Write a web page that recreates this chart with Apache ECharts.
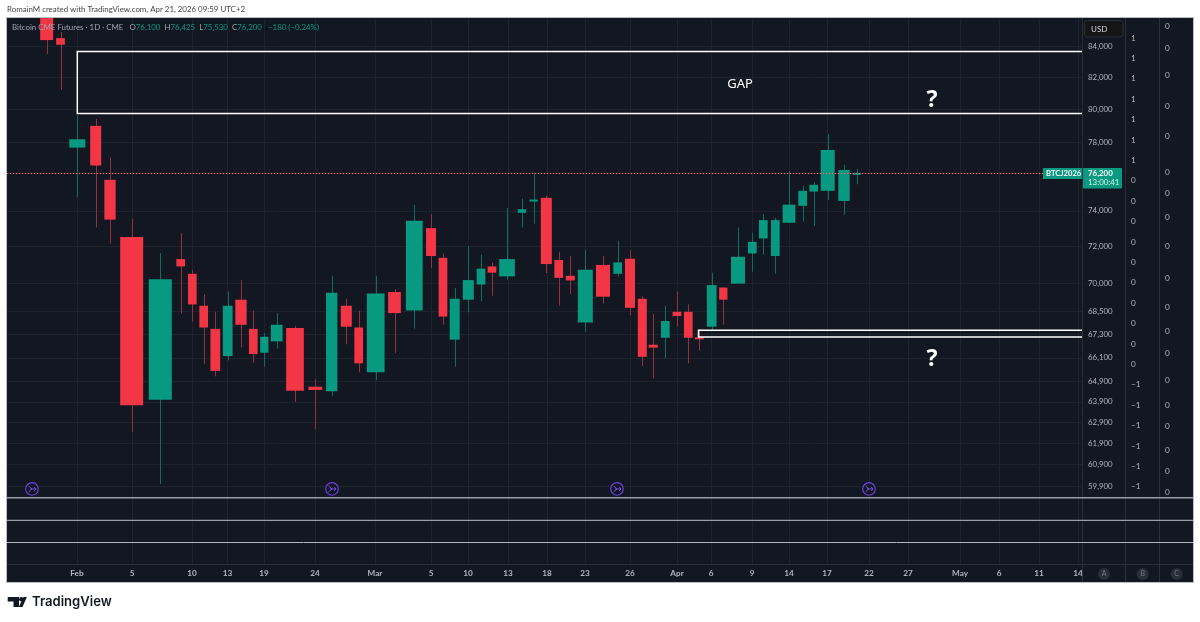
<!DOCTYPE html>
<html>
<head>
<meta charset="utf-8">
<title>Bitcoin CME Futures</title>
<script src="https://cdn.jsdelivr.net/npm/echarts@6/dist/echarts.min.js"></script>
<style>
  html, body { margin: 0; padding: 0; background: #fff; }
  #main { width: 1200px; height: 622px; }
</style>
</head>
<body>
<div id="main"></div>
<script>
    // candles: x is the running volume, width is the session volume (volume candles)
    var sessionPos = [39.7,53.5,70.3,88.7,103,124.7,153.3,173.7,185.3,196.7,208.3,220.7,234,246.3,257.3,269.7,288,308.3,324.7,339.3,351.7,368.7,387.5,407.3,424,436,447.7,461.3,474,485,500,515,526.7,539.3,551.7,563.3,578.3,596,610.7,623,635.3,646.3,658.3,670,681.3,692.3,704.7,716.3,731,745.3,756.3,768.3,782,795.7,806.7,820.7,837,849.7];
    var sessionVol = [13,8.7,16,11,11.3,23,23,8.7,8.7,8.7,9.7,9.7,11.3,8.7,8.3,11.7,17.7,13.7,11.3,11,8.7,17.7,12.7,16.7,10,8.7,10,11,8.7,8.7,15.7,8.3,8.3,11,8.7,9,15,14,8.7,10,9,9,8.7,8.7,8.7,8.7,9.7,8.3,14,8.7,8.7,8.7,12.7,8.7,8.7,14,11.3,8.3];
    var opens = [87000,84510,77690,79000,75790,72530,64000,71310,70510,68800,67590,66190,69120,67590,66360,66940,67630,64650,64420,68800,67660,65370,69530,68550,73030,71380,67030,69120,69930,70910,70370,73890,74600,74750,71260,70400,67920,70990,70510,71330,69170,66770,67130,68480,68480,67150,67700,69770,69980,71620,72450,71480,73330,74290,75110,75150,74570,76100];
    var highs = [88000,84900,79610,79420,77100,73550,71640,72750,70730,69390,68480,69560,70170,68550,67370,68410,67750,65040,70400,69170,68530,70400,69690,74350,73820,71620,69740,72020,71550,71110,74170,74690,76180,74860,71710,71480,71840,71480,72320,71800,69300,68370,68800,69560,68870,67590,70570,69770,73060,72770,73820,73610,76310,75440,75650,78500,76670,76425];
    var lows = [83490,81220,74790,73060,72170,62450,59990,68390,67970,65800,65170,65970,66630,65850,65650,66570,63900,62570,64200,66790,65370,64970,66350,67590,70820,67810,65650,68450,69030,69330,70190,73060,73290,70550,68800,69420,67440,68910,70350,68300,65690,65050,66070,67710,65820,66460,67540,67800,69980,70620,71550,70510,73330,73400,73140,74630,73780,75530];
    var closes = [84380,84080,78190,76630,73510,63740,70220,70910,68870,67660,65440,68800,67800,66290,67180,67800,64450,64490,69490,67700,65820,69450,68410,73440,71480,68230,69170,70170,70790,70570,71310,74100,74650,71040,70290,70150,70730,69280,71130,68690,66150,66620,68000,68260,67130,67100,69900,69120,71440,72260,73480,73480,74360,75150,75500,77550,76370,76200];

    // axes
    var timeTicks = [70,125,185,220.5,257,308,368,424,461,501,540,578,623,670,704,745,782,820,862,901,953,992,1032,1071];
    var timeLabels = ['Feb','5','10','13','19','24','Mar','5','10','13','18','23','26','Apr','6','9','14','17','22','27','May','6','11','14'];
    var priceTicks = [84000,82000,80000,78000,74000,72000,70000,68500,67300,66100,64900,63900,62900,61900,60900,59900];
    var scaleBTicks = [1.1,1,0.9,0.8,0.7,0.6,0.5,0.4,0.3,0.2,0.1,0,-0.1,-0.2,-0.3,-0.4,-0.5,-0.6,-0.7,-0.8,-0.9,-1,-1.1];
    var scaleCTicks = [0.471,0.449,0.422,0.391,0.361,0.325,0.304,0.28,0.251,0.219,0.19,0.166,0.144,0.117,0.092,0.071,0.047,0.026,0.005];

    // drawings: from, to, price top, price bottom (boxes run past the right edge of the pane)
    var zones = [[70.3,1090,83640,79750],[691.5,1090,67510,67170]];
    var notes = [[733,81590,'GAP'],[925,80530,'?'],[925,66020,'?']];
    var eventPos = [25,325,610,862];
    var eventPrice = 59765;
    var lastPrice = 76200;

    var UP = '#089981', DOWN = '#f23645', BG = '#131722', GRID = '#1e222d', TXT = '#b2b5be', LINE = '#2a2e39';
    var FONT = 'Lato, "Noto Sans", sans-serif';

    var candleData = sessionPos.map(function (x, i) {
        return [x, opens[i], highs[i], lows[i], closes[i], sessionVol[i]];
    });

    function renderCandle(params, api) {
        var x = api.value(0), o = api.value(1), h = api.value(2), l = api.value(3), c = api.value(4), w = api.value(5);
        var up = c >= o;
        var cx = Math.round(api.coord([x, h])[0]) + 0.5;
        var left = api.coord([x - w / 2, o])[0];
        var right = api.coord([x + w / 2, o])[0];
        var yTop = api.coord([x, Math.max(o, c)])[1];
        var yBot = api.coord([x, Math.min(o, c)])[1];
        return {
            type: 'group',
            children: [
                {
                    type: 'line',
                    shape: { x1: cx, y1: api.coord([x, h])[1], x2: cx, y2: api.coord([x, l])[1] },
                    style: { stroke: up ? '#0b6e62' : '#96303e', lineWidth: 1 }
                },
                {
                    type: 'rect',
                    shape: { x: left, y: yTop, width: right - left, height: Math.max(yBot - yTop, 2) },
                    style: { fill: up ? UP : DOWN }
                }
            ]
        };
    }

    function renderZone(params, api) {
        var a = api.coord([api.value(0), api.value(2)]);
        var b = api.coord([api.value(1), api.value(3)]);
        return {
            type: 'rect',
            shape: { x: a[0], y: a[1], width: b[0] - a[0], height: b[1] - a[1] },
            style: { fill: 'none', stroke: '#ffffff', lineWidth: 1.5 }
        };
    }

    function renderEvent(params, api) {
        var p = api.coord([api.value(0), api.value(1)]);
        return {
            type: 'group',
            x: p[0],
            y: p[1],
            children: [
                { type: 'circle', shape: { cx: 0, cy: 0, r: 6.3 }, style: { fill: BG, stroke: '#6b3fe0', lineWidth: 1.2 } },
                { type: 'polyline', shape: { points: [[-3.5, -3], [0, 0], [-3.5, 3]] }, style: { fill: 'none', stroke: '#7d55ea', lineWidth: 0.9 } },
                { type: 'polyline', shape: { points: [[-2, 0], [4, 0]] }, style: { fill: 'none', stroke: '#7d55ea', lineWidth: 0.9 } },
                { type: 'polyline', shape: { points: [[2, -2], [4, 0], [2, 2]] }, style: { fill: 'none', stroke: '#7d55ea', lineWidth: 0.9 } }
            ]
        };
    }

    function hline(y, color, w) {
        return { type: 'line', silent: true, z: 20, shape: { x1: 7, y1: y, x2: 1193, y2: y }, style: { stroke: color, lineWidth: w } };
    }
    function vline(x) {
        return { type: 'line', silent: true, z: 1, shape: { x1: x, y1: 18, x2: x, y2: 582 }, style: { stroke: LINE, lineWidth: 1 } };
    }
    function scaleBadge(x, s) {
        return {
            type: 'group', z: 20, silent: true,
            children: [
                { type: 'circle', shape: { cx: x, cy: 574, r: 6 }, style: { fill: '#2a2e39' } },
                { type: 'text', style: { x: x, y: 574, text: s, fill: '#787b86', font: '7px ' + FONT, textAlign: 'center', textVerticalAlign: 'middle' } }
            ]
        };
    }

    var myChart = echarts.init(document.getElementById('main'), null, { renderer: 'canvas' });
    var option = {
        animation: false,
        backgroundColor: '#ffffff',
        textStyle: { fontFamily: FONT },
        title: [
            {
                text: 'RomainM created with TradingView.com, Apr 21, 2026 09:59 UTC+2',
                left: 7, top: 5, padding: 0,
                textStyle: { fontSize: 7.9, fontWeight: 'normal', color: '#444444', fontFamily: FONT }
            },
            {
                text: '{g|Bitcoin CME Futures · 1D · CME   O}{u|76,100}  {g|H}{u|76,425}  {g|L}{u|75,530}  {g|C}{u|76,200}   {u|−180 (−0.24%)}',
                left: 12, top: 23, padding: 0,
                textStyle: {
                    fontSize: 7.9, fontWeight: 'normal', fontFamily: FONT,
                    rich: {
                        g: { fontSize: 7.9, color: '#a0a3ad', fontFamily: FONT },
                        u: { fontSize: 7.9, color: '#089981', fontFamily: FONT }
                    }
                }
            }
        ],
        grid: [
            { left: 7, right: 118, top: 18, height: 479 },
            { left: 7, right: 118, top: 497, height: 68 }
        ],
        xAxis: [
            {
                type: 'value', gridIndex: 0, min: 0, max: 1075,
                axisLine: { show: false },
                axisTick: { show: false, customValues: timeTicks },
                axisLabel: { show: false },
                splitLine: { show: true, lineStyle: { color: GRID, width: 1 } }
            },
            {
                type: 'value', gridIndex: 1, min: 0, max: 1075,
                axisLine: { show: false },
                axisTick: { show: false, customValues: timeTicks },
                axisLabel: {
                    customValues: timeTicks,
                    margin: 4,
                    fontSize: 8.2,
                    fontWeight: 700,
                    color: TXT,
                    fontFamily: FONT,
                    hideOverlap: false,
                    formatter: function (v) { return timeLabels[timeTicks.indexOf(v)]; }
                },
                splitLine: { show: true, lineStyle: { color: GRID, width: 1 } }
            }
        ],
        yAxis: [
            {
                type: 'log', gridIndex: 0, position: 'right', min: 59396, max: 85826,
                axisLine: { show: false },
                axisTick: { show: false, customValues: priceTicks },
                axisLabel: {
                    customValues: priceTicks, margin: 6, padding: [2, 0, 0, 0], fontSize: 7.9, color: TXT, fontFamily: FONT, hideOverlap: false,
                    formatter: function (v) { return Math.round(v).toLocaleString('en-US'); }
                },
                splitLine: { show: true, lineStyle: { color: GRID, width: 1 } }
            },
            {
                type: 'value', gridIndex: 0, position: 'right', offset: 43, min: -1.15, max: 1.198,
                axisLine: { show: false },
                axisTick: { show: false, customValues: scaleBTicks },
                axisLabel: {
                    customValues: scaleBTicks, margin: 6, padding: [3, 0, 0, 0], fontSize: 8.2, color: TXT, fontFamily: FONT, hideOverlap: false,
                    formatter: function (v) { var r = Math.round(v); return r < 0 ? '−' + (-r) : '' + Math.abs(r); }
                },
                splitLine: { show: false }
            },
            {
                type: 'value', gridIndex: 0, position: 'right', offset: 77, min: 0, max: 0.479,
                axisLine: { show: false },
                axisTick: { show: false, customValues: scaleCTicks },
                axisLabel: {
                    customValues: scaleCTicks, margin: 6, padding: [3, 0, 0, 0], fontSize: 8.2, color: TXT, fontFamily: FONT, hideOverlap: false,
                    formatter: function (v) { return '' + Math.round(v); }
                },
                splitLine: { show: false }
            },
            {
                type: 'value', gridIndex: 1, min: 0, max: 1,
                axisLine: { show: false }, axisTick: { show: false }, axisLabel: { show: false }, splitLine: { show: false }
            }
        ],
        series: [
            {
                name: 'Bitcoin CME Futures',
                type: 'custom',
                xAxisIndex: 0, yAxisIndex: 0,
                clip: true,
                z: 3,
                renderItem: renderCandle,
                encode: { x: 0, y: [1, 2, 3, 4] },
                data: candleData,
                markLine: {
                    silent: true, symbol: 'none', animation: false, label: { show: false },
                    data: [
                        { yAxis: lastPrice, lineStyle: { color: 'rgba(242,54,69,0.4)', type: 'solid', width: 1 } },
                        { yAxis: lastPrice, lineStyle: { color: '#a58c97', type: [1, 2], width: 1 } }
                    ]
                }
            },
            {
                type: 'custom', xAxisIndex: 0, yAxisIndex: 0, clip: true, z: 4,
                renderItem: renderZone,
                encode: { x: [0, 1], y: [2, 3] },
                data: zones
            },
            {
                type: 'custom', xAxisIndex: 0, yAxisIndex: 0, z: 5,
                renderItem: function (params, api) {
                    var p = api.coord([api.value(0), api.value(1)]);
                    var s = notes[params.dataIndex][2];
                    return {
                        type: 'text',
                        x: p[0], y: p[1],
                        style: {
                            text: s, fill: '#ffffff',
                            font: (s === '?' ? 'bold 23px "Noto Sans"' : '13px "Noto Sans"'),
                            textAlign: 'center', textVerticalAlign: 'middle'
                        }
                    };
                },
                encode: { x: 0, y: 1 },
                data: notes.map(function (n) { return [n[0], n[1]]; })
            },
            {
                type: 'custom', xAxisIndex: 0, yAxisIndex: 0, z: 5,
                renderItem: renderEvent,
                encode: { x: 0, y: 1 },
                data: eventPos.map(function (x) { return [x, eventPrice]; })
            }
        ],
        graphic: {
            elements: [
                { type: 'rect', z: -10, silent: true, shape: { x: 6.5, y: 17.5, width: 1187, height: 565 }, style: { fill: BG, stroke: '#bcbfc6', lineWidth: 1 } },
                vline(1082.5), vline(1125.5), vline(1159.5),
                hline(497.7, '#9a9da6', 1.5), hline(520.3, '#9a9da6', 1.2), hline(542.5, '#b2b5be', 1), hline(564.5, LINE, 1),
                { type: 'rect', z: 20, silent: true, shape: { x: 1084.5, y: 20.5, width: 38.5, height: 16.5, r: 3 }, style: { fill: '#151515', stroke: '#2a2e39', lineWidth: 1 } },
                { type: 'text', z: 21, silent: true, style: { x: 1091, y: 29, text: 'USD', fill: '#d1d4dc', font: '8px ' + FONT, textVerticalAlign: 'middle' } },
                { type: 'rect', z: 20, silent: true, shape: { x: 1043, y: 168, width: 39, height: 11 }, style: { fill: UP } },
                { type: 'text', z: 21, silent: true, style: { x: 1046, y: 173.7, text: 'BTCJ2026', fill: '#ffffff', font: '700 7.6px ' + FONT, textVerticalAlign: 'middle' } },
                { type: 'rect', z: 20, silent: true, shape: { x: 1083, y: 168, width: 39, height: 20.5, r: 1 }, style: { fill: UP } },
                { type: 'text', z: 21, silent: true, style: { x: 1088, y: 173, text: '76,200', fill: '#ffffff', font: '700 7.9px ' + FONT, textVerticalAlign: 'middle' } },
                { type: 'text', z: 21, silent: true, style: { x: 1088, y: 182.5, text: '13:00:41', fill: '#d8f0ec', font: '7.9px ' + FONT, textVerticalAlign: 'middle' } },
                scaleBadge(1104, 'A'), scaleBadge(1142.7, 'B'), scaleBadge(1176.7, 'C'),
                // TradingView mark
                { type: 'polygon', silent: true, shape: { points: [[7.7, 597], [19, 597], [19, 607], [13.5, 607], [13.5, 601.5], [7.7, 601.5]] }, style: { fill: '#131722' } },
                { type: 'circle', silent: true, shape: { cx: 21.3, cy: 599.2, r: 2.2 }, style: { fill: '#131722' } },
                { type: 'polygon', silent: true, shape: { points: [[23.5, 597], [26.9, 597], [22.5, 607], [18.8, 607]] }, style: { fill: '#131722' } },
                { type: 'text', silent: true, style: { x: 32, y: 602.5, text: 'TradingView', fill: '#131722', font: '600 13.1px Inter, "Noto Sans"', textVerticalAlign: 'middle' } }
            ]
        }
    };
    myChart.setOption(option);
</script>
</body>
</html>
